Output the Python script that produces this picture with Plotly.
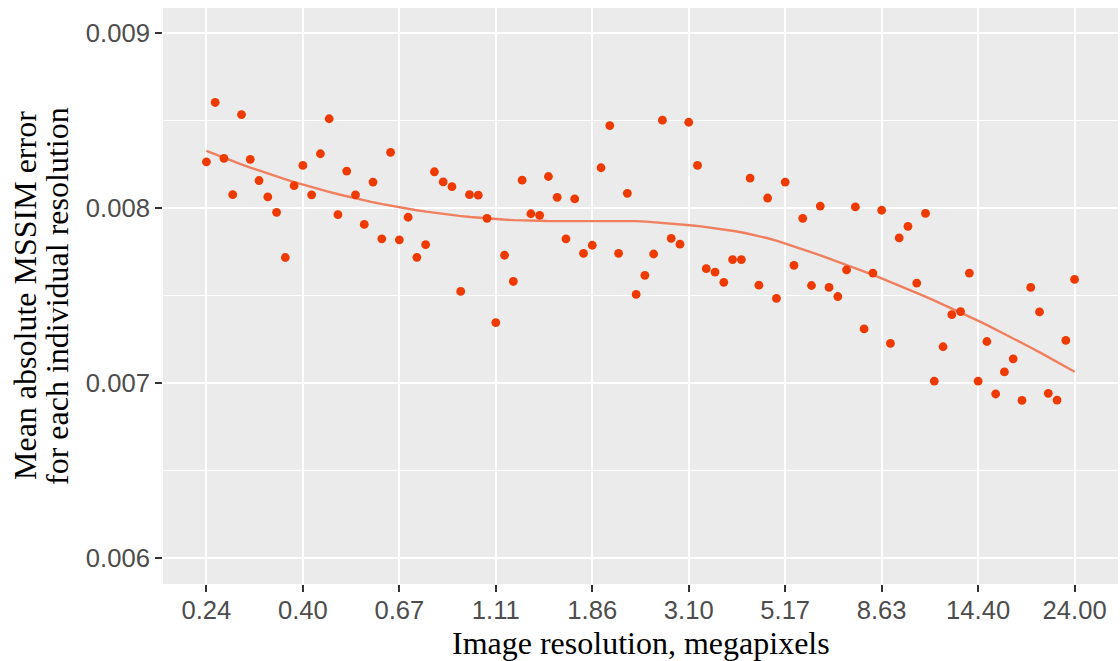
import numpy as np
import plotly.graph_objects as go

# Resolution sweep: 100 sizes, geometrically spaced from 0.24 to 24 megapixels
megapixels = np.geomspace(0.24, 24.0, 100)

# Mean absolute MSSIM error for each resolution
mssim_error = [
    0.008264, 0.008603, 0.008283, 0.008076, 0.008534, 0.008278, 0.008157, 0.008063, 0.007975, 0.007717,
    0.008128, 0.008243, 0.008075, 0.008310, 0.008510, 0.007962, 0.008211, 0.008075, 0.007906, 0.008148,
    0.007824, 0.008318, 0.007818, 0.007947, 0.007718, 0.007791, 0.008207, 0.008149, 0.008122, 0.007523,
    0.008076, 0.008073, 0.007941, 0.007345, 0.007730, 0.007580, 0.008159, 0.007967, 0.007958, 0.008180,
    0.008061, 0.007824, 0.008052, 0.007741, 0.007787, 0.008230, 0.008471, 0.007741, 0.008084, 0.007506,
    0.007615, 0.007737, 0.008502, 0.007826, 0.007793, 0.008490, 0.008243, 0.007653, 0.007634, 0.007575,
    0.007705, 0.007705, 0.008171, 0.007559, 0.008057, 0.007483, 0.008148, 0.007672, 0.007941, 0.007557,
    0.008011, 0.007546, 0.007494, 0.007646, 0.008006, 0.007309, 0.007628, 0.007987, 0.007226, 0.007829,
    0.007895, 0.007571, 0.007969, 0.007011, 0.007207, 0.007391, 0.007408, 0.007628, 0.007010, 0.007237,
    0.006937, 0.007063, 0.007138, 0.006901, 0.007546, 0.007406, 0.006941, 0.006902, 0.007243, 0.007592,
]

x_tick_labels = ["0.24", "0.40", "0.67", "1.11", "1.86", "3.10", "5.17", "8.63", "14.40", "24.00"]
y_tick_values = [0.006, 0.007, 0.008, 0.009]
y_tick_labels = ["0.006", "0.007", "0.008", "0.009"]


def loess(x, y, x_eval, span=0.75):
    """Local quadratic regression with tricube weights."""
    x = np.asarray(x, float)
    y = np.asarray(y, float)
    n = len(x)
    q = int(np.floor(n * span))
    fitted = []
    for x0 in x_eval:
        d = np.abs(x - x0)
        h = np.sort(d)[q - 1]
        w = np.clip(1 - (d / h) ** 3, 0, None) ** 3
        X = np.column_stack([np.ones(n), x - x0, (x - x0) ** 2])
        sw = np.sqrt(w)
        beta = np.linalg.lstsq(X * sw[:, None], y * sw, rcond=None)[0]
        fitted.append(beta[0])
    return np.array(fitted)


log_x = np.log10(megapixels)
smooth_log_x = np.linspace(log_x.min(), log_x.max(), 80)
smooth_y = loess(log_x, mssim_error, smooth_log_x)

tick_positions = np.geomspace(megapixels.min(), megapixels.max(), len(x_tick_labels))

fig = go.Figure()
fig.add_trace(go.Scatter(
    x=10 ** smooth_log_x, y=smooth_y, mode="lines",
    line=dict(color="#EF7F5F", width=2.4), hoverinfo="skip", showlegend=False,
))
fig.add_trace(go.Scatter(
    x=megapixels, y=mssim_error, mode="markers",
    marker=dict(color="#EE3A00", size=8.8, line=dict(width=0)), showlegend=False,
))

x_lo, x_hi = np.log10(0.24), np.log10(24.0)
pad = 0.05 * (x_hi - x_lo)

tick_font = dict(family="Liberation Sans, Arial, sans-serif", size=25.6, color="#4D4D4D")
title_font = dict(family="Liberation Serif, Times New Roman, serif", size=32, color="#000000")

fig.update_layout(
    width=1120, height=661,
    margin=dict(l=163, r=2, t=8, b=77),
    paper_bgcolor="white", plot_bgcolor="#EBEBEB",
    xaxis=dict(
        type="log", range=[x_lo - pad, x_hi + pad],
        tickvals=tick_positions, ticktext=x_tick_labels,
        showgrid=True, gridcolor="white", gridwidth=2.2,
        zeroline=False, showline=False,
        ticks="outside", ticklen=7, tickwidth=2.2, tickcolor="#333333",
        tickfont=tick_font, ticklabelstandoff=-4,
    ),
    yaxis=dict(
        range=[0.005851, 0.009143],
        tickvals=y_tick_values, ticktext=y_tick_labels,
        showgrid=True, gridcolor="white", gridwidth=2.2,
        zeroline=False, showline=False,
        ticks="outside", ticklen=7, tickwidth=2.2, tickcolor="#333333",
        tickfont=tick_font,
        minor=dict(tick0=0.0055, dtick=0.001, showgrid=True, gridcolor="white", gridwidth=1.1, ticks=""),
    ),
    annotations=[
        dict(text="Image resolution, megapixels", xref="paper", yref="paper",
             x=0.5, y=0, xanchor="center", yanchor="middle", yshift=-59,
             showarrow=False, font=title_font),
        dict(text="Mean absolute MSSIM error", xref="paper", yref="paper",
             x=0, y=0.5, xanchor="center", yanchor="middle", xshift=-138,
             textangle=-90, showarrow=False, font=title_font),
        dict(text="for each individual resolution", xref="paper", yref="paper",
             x=0, y=0.5, xanchor="center", yanchor="middle", xshift=-106,
             textangle=-90, showarrow=False, font=title_font),
    ],
)

fig.write_html("out.html")
